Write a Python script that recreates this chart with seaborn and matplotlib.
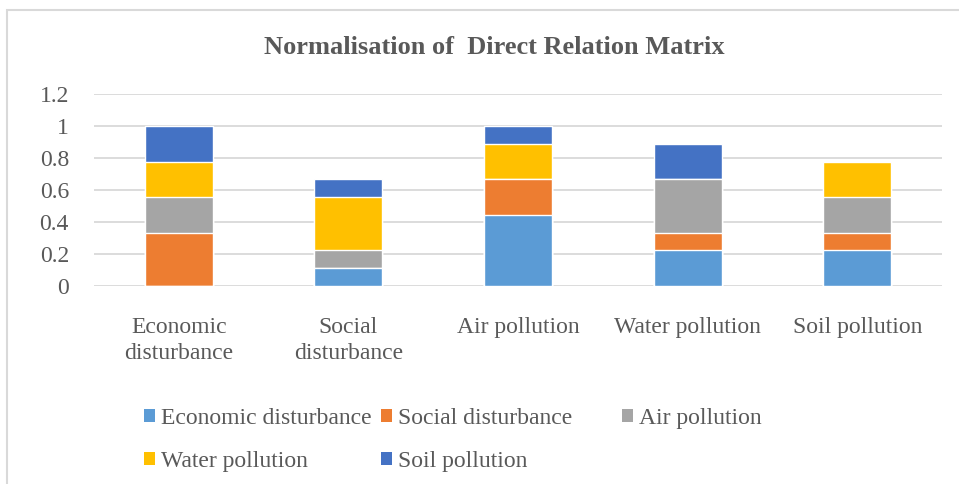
import numpy as np
import pandas as pd
import matplotlib
matplotlib.use('Agg')
import matplotlib.pyplot as plt
import seaborn as sns
from matplotlib.patches import Patch, Rectangle
from matplotlib.ticker import FuncFormatter

# ---- data (values are ninths) ----
categories = ['Economic\ndisturbance', 'Social\ndisturbance', 'Air pollution',
              'Water pollution', 'Soil pollution']
series = ['Economic disturbance', 'Social disturbance', 'Air pollution',
          'Water pollution', 'Soil pollution']
economic = [0, 0.111, 0.444, 0.222, 0.222]
social = [0.333, 0, 0.222, 0.111, 0.111]
air = [0.222, 0.111, 0, 0.333, 0.222]
water = [0.222, 0.333, 0.222, 0, 0.222]
soil = [0.222, 0.111, 0.111, 0.222, 0]
colors = ['#5B9BD5', '#ED7D31', '#A5A5A5', '#FFC000', '#4472C4']
yticks = [0, 0.2, 0.4, 0.6, 0.8, 1, 1.2]

TEXT = '#595959'
GRID = '#D9D9D9'

sns.set_style('white')
plt.rcParams['font.family'] = ['Liberation Serif', 'DejaVu Serif']

df = pd.DataFrame({'category': categories, series[0]: economic, series[1]: social,
                   series[2]: air, series[3]: water, series[4]: soil})
cum = df[series].cumsum(axis=1)

W, H = 959, 484
fig = plt.figure(figsize=(W / 100, H / 100), dpi=100)
ax = fig.add_axes([94 / W, 1 - 286 / H, 848 / W, 192 / H])

# stacked bars: draw the running totals from the top layer down
for s, c in reversed(list(zip(series, colors))):
    sns.barplot(x=df['category'], y=cum[s], color=c, saturation=1, width=0.4,
                errorbar=None, ax=ax, zorder=2)

ax.set_ylim(0, 1.2)
ax.set_yticks(yticks)
ax.yaxis.set_major_formatter(FuncFormatter(lambda v, _: f'{v:g}'))
ax.set_xlabel('')
ax.set_ylabel('')
ax.set_axisbelow(True)
ax.yaxis.grid(True, color=GRID, lw=1.3)
ax.xaxis.grid(False)
for sp in ax.spines.values():
    sp.set_visible(False)
ax.tick_params(axis='y', length=0, pad=18, labelsize=17, labelcolor=TEXT)
ax.tick_params(axis='x', length=0, pad=22, labelsize=17, labelcolor=TEXT)
for lbl in ax.get_xticklabels():
    lbl.set_linespacing(1.32)

# title
fig.text(494 / W, 1 - 47 / H, 'Normalisation of  Direct Relation Matrix',
         ha='center', va='center', fontsize=19, fontweight='bold', color=TEXT)

# legend laid out like Excel: three fixed columns
handles = [Patch(facecolor=c, edgecolor='none', label=s) for s, c in zip(series, colors)]
cols = [[0, 3], [1, 4], [2]]
xs = [144, 381, 622]
for col, x in zip(cols, xs):
    fig.legend(handles=[handles[i] for i in col], loc='upper left',
               bbox_to_anchor=(x / W, 1 - 408 / H), frameon=False, fontsize=17,
               handlelength=0.47, handleheight=0.5, handletextpad=0.25,
               labelspacing=0.92, borderpad=0, borderaxespad=0, labelcolor=TEXT)

# chart border (only top and left are inside the crop)
fig.add_artist(Rectangle((7 / W, -0.05), 1.0, 1 - 10 / H + 0.05, transform=fig.transFigure,
                         fill=False, edgecolor=GRID, lw=1.5))

fig.savefig('out.png', dpi=100)
